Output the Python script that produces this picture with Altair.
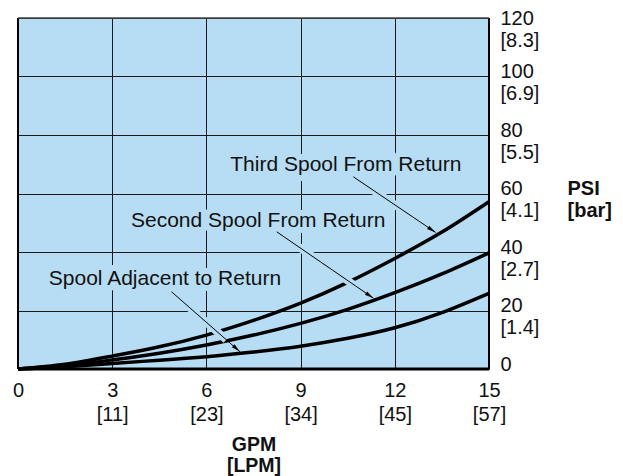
import math
import altair as alt
import pandas as pd

# ---- data ----
gpm = [0, 1.5, 3, 4.5, 6, 7.5, 9, 10.5, 12, 13.5, 15]
third = [0, 1.6, 4.4, 7.6, 11.6, 16.6, 22.5, 29.6, 37.8, 46.8, 57.2]
second = [0, 1.1, 3.1, 5.4, 8.2, 11.6, 15.6, 20.4, 26.1, 32.5, 39.7]
adjacent = [0, 0.8, 1.9, 3.0, 4.2, 5.8, 7.8, 10.5, 14.1, 19.3, 25.9]

x_ticks = [0, 3, 6, 9, 12, 15]
x_sub = ["", "[11]", "[23]", "[34]", "[45]", "[57]"]
y_ticks = [0, 20, 40, 60, 80, 100, 120]
y_sub = ["", "[1.4]", "[2.7]", "[4.1]", "[5.5]", "[6.9]", "[8.3]"]

labels = ["Third Spool From Return", "Second Spool From Return", "Spool Adjacent to Return"]
label_x = [10.44, 7.65, 4.68]
label_y = [69.7, 50.5, 30.6]
lead_x0 = [10.68, 8.24, 4.89]
lead_y0 = [65.7, 46.9, 26.4]
lead_x1 = [13.30, 11.32, 7.07]
lead_y1 = [46.7, 24.2, 5.9]

title_text = "Work Port to Return"

# ---- layout ----
W, H = 471, 351
XMAX, YMAX = 15, 120
BG = "#b6ddf4"
FONT = "Liberation Sans"

curves = pd.DataFrame(
    [{"gpm": g, "psi": v, "series": "third"} for g, v in zip(gpm, third)]
    + [{"gpm": g, "psi": v, "series": "second"} for g, v in zip(gpm, second)]
    + [{"gpm": g, "psi": v, "series": "adjacent"} for g, v in zip(gpm, adjacent)]
)

ann = pd.DataFrame({"text": labels, "x": label_x, "y": label_y})

leads = pd.DataFrame({"x0": lead_x0, "y0": lead_y0, "x1": lead_x1, "y1": lead_y1})
halo = pd.DataFrame({
    "x0": [a + (b - a) * 0.06 for a, b in zip(lead_x0, lead_x1)],
    "y0": [a + (b - a) * 0.06 for a, b in zip(lead_y0, lead_y1)],
    "x1": [a + (b - a) * 0.80 for a, b in zip(lead_x0, lead_x1)],
    "y1": [a + (b - a) * 0.80 for a, b in zip(lead_y0, lead_y1)],
})
angles = []
for a, b, c, d in zip(lead_x0, lead_y0, lead_x1, lead_y1):
    dx = (c - a) * W / XMAX
    dy = (b - d) * H / YMAX
    angles.append(math.degrees(math.atan2(dx, -dy)) % 360)
heads = pd.DataFrame({"x": lead_x1, "y": lead_y1, "angle": angles})


def build_expr(ticks, subs):
    expr = "datum.label"
    for t, s in reversed(list(zip(ticks, subs))):
        if s:
            expr = f"datum.value == {t} ? ['{t}', '{s}'] : " + expr
    return expr


xscale = alt.Scale(domain=[0, XMAX], nice=False, zero=True)
yscale = alt.Scale(domain=[0, YMAX], nice=False, zero=True)

x_axis = alt.Axis(
    values=x_ticks, grid=True, gridColor="#1a1a1a", gridWidth=1, domain=False,
    ticks=False, labelPadding=11, labelFont=FONT, labelFontSize=20,
    labelColor="#111", labelBaseline="top", labelLineHeight=24,
    labelFlush=False, labelOverlap=False, labelExpr=build_expr(x_ticks, x_sub),
    title=["GPM", "[LPM]"], titleFont=FONT, titleFontSize=19.5,
    titleFontWeight="bold", titleColor="#111", titleBaseline="alphabetic",
    titleY=81, titleLineHeight=21,
)
y_axis = alt.Axis(
    orient="right", values=y_ticks, grid=True, gridColor="#1a1a1a", gridWidth=1,
    domain=False, ticks=False, labelPadding=11, labelFont=FONT, labelFontSize=20,
    labelColor="#111", labelAlign="left", labelBaseline="alphabetic",
    labelOffset={"condition": {"test": "datum.value == 120", "value": 6}, "value": 1},
    labelLineHeight=22, labelFlush=False, labelOverlap=False,
    labelExpr=build_expr(y_ticks, y_sub),
    title=["PSI", "[bar]"], titleFont=FONT, titleFontSize=20,
    titleFontWeight="bold", titleColor="#111", titleAngle=0, titleAlign="left",
    titleBaseline="alphabetic", titleX=78, titleY=176, titleLineHeight=22,
)

lines = alt.Chart(curves).mark_line(
    color="black", strokeWidth=3.5, interpolate="natural"
).encode(
    x=alt.X("gpm:Q", scale=xscale, axis=x_axis),
    y=alt.Y("psi:Q", scale=yscale, axis=y_axis),
    detail="series:N",
)

halo_rules = alt.Chart(halo).mark_rule(color=BG, strokeWidth=8).encode(
    x="x0:Q", y="y0:Q", x2="x1:Q", y2="y1:Q"
)
text_halo = alt.Chart(ann).mark_text(
    font=FONT, fontSize=21, color=BG, stroke=BG, strokeWidth=12,
    strokeJoin="round", baseline="middle", align="center",
).encode(x="x:Q", y="y:Q", text="text:N")

lead_rules = alt.Chart(leads).mark_rule(color="black", strokeWidth=1).encode(
    x="x0:Q", y="y0:Q", x2="x1:Q", y2="y1:Q"
)
arrow_heads = alt.Chart(heads).mark_point(
    shape="M0,0 L-0.45,2 L0.45,2 Z", filled=True, color="black", size=81, opacity=1
).encode(x="x:Q", y="y:Q", angle=alt.Angle("angle:Q", scale=None))

texts = alt.Chart(ann).mark_text(
    font=FONT, fontSize=21, color="#111", baseline="middle", align="center"
).encode(x="x:Q", y="y:Q", text="text:N")

one = pd.DataFrame({"v": [0]})
border_left = alt.Chart(one).mark_rule(color="black", strokeWidth=2).encode(x=alt.datum(0))
border_right = alt.Chart(one).mark_rule(color="black", strokeWidth=2).encode(x=alt.datum(XMAX))
border_bottom = alt.Chart(one).mark_rule(color="black", strokeWidth=3).encode(y=alt.datum(0))
border_top = alt.Chart(one).mark_rule(color="#444", strokeWidth=1.5).encode(y=alt.datum(YMAX))

title_df = pd.DataFrame({"text": [title_text], "x": [7.6], "y": [125.1]})
title_mark = alt.Chart(title_df).mark_text(
    font=FONT, fontSize=22, fontWeight="bold", color="#111",
    baseline="alphabetic", align="center",
).encode(x="x:Q", y="y:Q", text="text:N")

chart = alt.layer(
    lines, halo_rules, text_halo, lead_rules, arrow_heads, texts,
    border_left, border_right, border_bottom, border_top, title_mark,
).properties(
    width=W, height=H,
    padding={"left": 10, "top": 10, "right": 126, "bottom": 107},
    autosize=alt.AutoSizeParams(type="none"),
).configure(background="white").configure_view(fill=BG, stroke="transparent")

chart.save("out.html", embed_options={"renderer": "svg", "actions": False})
